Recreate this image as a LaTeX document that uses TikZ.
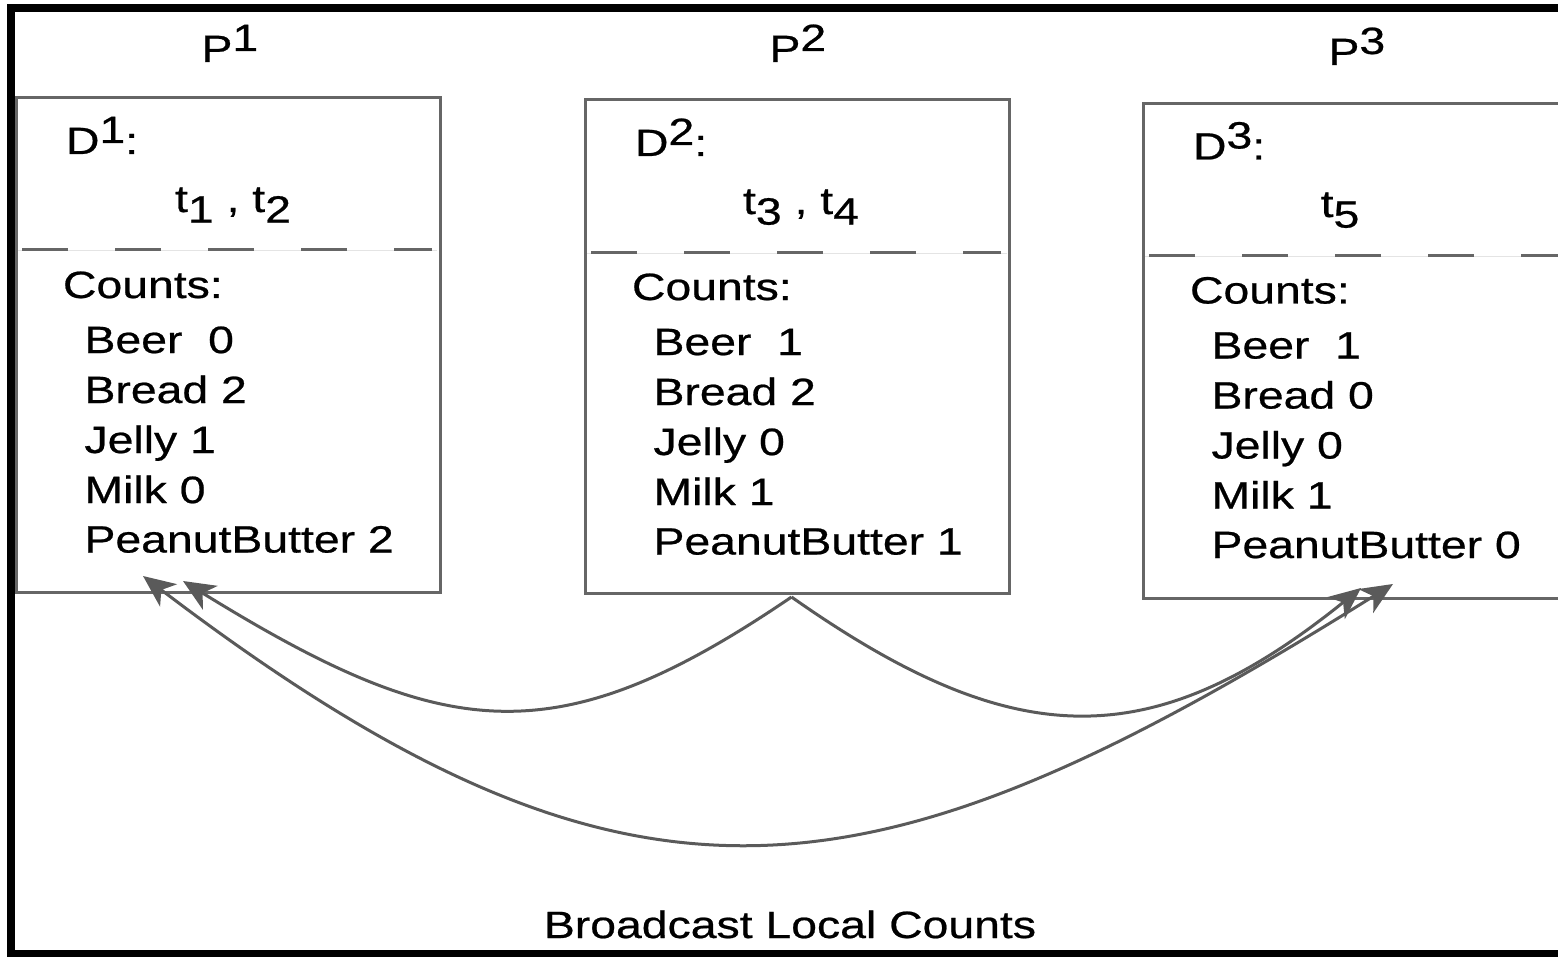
\documentclass[tikz,border=0pt]{standalone}
\usepackage{fontspec}
\setmainfont{Liberation Sans}[FakeStretch=1.22,FakeBold=0.6]
\usetikzlibrary{arrows.meta}
\definecolor{boxgray}{HTML}{666666}
\definecolor{arrowgray}{HTML}{5A5A5A}
\definecolor{faintgray}{HTML}{E4E4E4}
% raised / lowered indices drawn at text size
\newcommand{\upidx}[1]{\raisebox{5.5pt}{#1}}
\newcommand{\lowidx}[1]{\raisebox{-5.3pt}{#1}}

\begin{document}
\begin{tikzpicture}[x=0.5pt,y=-0.5pt,
  every node/.style={inner sep=0pt, outer sep=0pt, font=\fontsize{19}{22}\selectfont},
  frame/.style={draw=black, line width=4pt},
  databox/.style={draw=boxgray, line width=1.5pt, anchor=north west,
    minimum width=212pt, minimum height=247pt},
  divider/.style={draw=boxgray, line width=1.5pt, dash pattern=on 23pt off 23.5pt},
  hairline/.style={draw=faintgray, line width=0.4pt},
  lbl/.style={anchor=base west},
  mid/.style={anchor=base},
  flow/.style={draw=arrowgray, line width=1.5pt},
  tip/.tip={Stealth[length=16pt,width=14pt,inset=4.5pt]}
]
\useasboundingbox (0,0) rectangle (1558,957);

% outer frame (continues past the right edge)
\draw[frame] (11,8.5) rectangle (1700,954);

% process labels
\node[lbl] (p1) at (201.5,62) {P\upidx{1}};
\node[lbl] (p2) at (769.5,62) {P\upidx{2}};
\node[lbl] (p3) at (1328.5,65) {P\upidx{3}};

% local data boxes
\node[databox] (box1) at (16.5,98) {};
\node[databox] (box2) at (585,99.5) {};
\node[databox] (box3) at (1143.5,104) {};

% dividers between partitions and counts
\draw[hairline] (18,250) -- (437,250);
\draw[divider] (22,250) -- (432,250);
\draw[hairline] (587,253) -- (1007,253);
\draw[divider] (591,253) -- (1001,253);
\draw[hairline] (1145,256) -- (1600,256);
\draw[divider] (1149,256) -- (1600,256);

% box 1
\node[lbl] (d1) at (66,154) {D\upidx{1}:};
\node[mid] (tx1) at (233,212) {t\lowidx{1} , t\lowidx{2}};
\node[lbl] (c1) at (63,298) {Counts:};
\node[lbl] (c1a) at (84.5,353) {Beer\ \ 0};
\node[lbl] (c1b) at (84.5,403) {Bread 2};
\node[lbl] (c1c) at (84.5,453) {Jelly 1};
\node[lbl] (c1d) at (84.5,503) {Milk 0};
\node[lbl] (c1e) at (84.5,552.5) {PeanutButter 2};

% box 2
\node[lbl] (d2) at (635,156) {D\upidx{2}:};
\node[mid] (tx2) at (801,214) {t\lowidx{3} , t\lowidx{4}};
\node[lbl] (c2) at (632,300) {Counts:};
\node[lbl] (c2a) at (653.5,355) {Beer\ \ 1};
\node[lbl] (c2b) at (653.5,405) {Bread 2};
\node[lbl] (c2c) at (653.5,455) {Jelly 0};
\node[lbl] (c2d) at (653.5,505) {Milk 1};
\node[lbl] (c2e) at (653.5,554.5) {PeanutButter 1};

% box 3
\node[lbl] (d3) at (1193,159.5) {D\upidx{3}:};
\node[mid] (tx3) at (1340,217) {t\lowidx{5}};
\node[lbl] (c3) at (1190,303.5) {Counts:};
\node[lbl] (c3a) at (1211.5,358.5) {Beer\ \ 1};
\node[lbl] (c3b) at (1211.5,408.5) {Bread 0};
\node[lbl] (c3c) at (1211.5,458.5) {Jelly 0};
\node[lbl] (c3d) at (1211.5,508.5) {Milk 1};
\node[lbl] (c3e) at (1211.5,558) {PeanutButter 0};

% connector ends
\coordinate (src) at (791.5,597);
\coordinate (in1a) at (183,581);
\coordinate (in1b) at (143,576);
\coordinate (in3a) at (1361,588);
\coordinate (in3b) at (1393,584);

% broadcast of local counts
\draw[flow, -tip] (src) .. controls (555,758) and (444,742) .. (in1a);
\draw[flow, -tip] (src) .. controls (1012,752) and (1150,758) .. (in3a);
\draw[flow, tip-tip] (in1b) .. controls (634,949) and (870,911) .. (in3b);

\node[mid] (cap) at (790,938) {Broadcast Local Counts};
\end{tikzpicture}
\end{document}
